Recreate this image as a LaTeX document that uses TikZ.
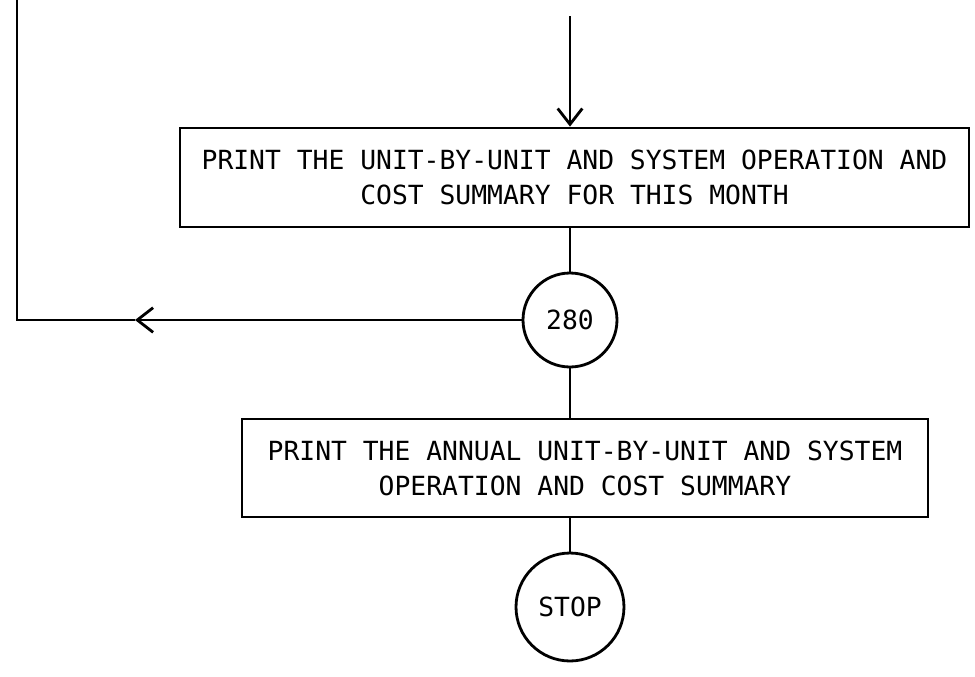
\documentclass[tikz,border=0pt]{standalone}
\usepackage{fontspec}
\setmonofont{DejaVu Sans Mono}
\usetikzlibrary{arrows.meta}

\begin{document}
\begin{tikzpicture}[x=0.02cm, y=-0.02cm,
    flow/.style={line width=1.6pt},
    barb/.style={-{Straight Barb[length=9pt,width=14pt,line width=1.6pt]}},
    printbox/.style={draw, line width=1.6pt, align=center, inner sep=0pt,
        font=\ttfamily\fontsize{15}{20}\selectfont},
    connector/.style={draw, circle, line width=1.6pt, inner sep=0pt,
        font=\ttfamily\fontsize{15}{20}\selectfont}]
    \useasboundingbox (0,0) rectangle (975,677);

    % Draw print boxes
    \node[printbox, minimum width=15.78cm, minimum height=1.98cm] (month) at (574.5,177.5)
        {PRINT THE UNIT-BY-UNIT AND SYSTEM OPERATION AND\\COST SUMMARY FOR THIS MONTH};
    \node[printbox, minimum width=13.72cm, minimum height=1.96cm] (annual) at (585,468)
        {PRINT THE ANNUAL UNIT-BY-UNIT AND SYSTEM\\OPERATION AND COST SUMMARY};

    % Draw connector circles
    \node[connector, minimum size=1.88cm] (c280) at (570,320) {280};
    \node[connector, minimum size=2.16cm] (stop) at (570,607) {STOP};

    % Free ends of the lines
    \coordinate (intop) at (570,16);
    \coordinate (loopmark) at (135,320);
    \coordinate (loopcorner) at (17,320);
    \coordinate (loopend) at (17,0);

    % Draw flow lines
    \draw[flow, barb] (intop) -- (month.north -| intop);
    \draw[flow] (month.south -| c280) -- (c280);
    \draw[flow] (c280) -- (annual.north -| c280);
    \draw[flow] (annual.south -| c280) -- (stop);

    % Loop back to the top
    \draw[flow, barb] (c280.west) -- (loopmark);
    \draw[flow] (loopmark) -- (loopcorner) -- (loopend);
\end{tikzpicture}
\end{document}
